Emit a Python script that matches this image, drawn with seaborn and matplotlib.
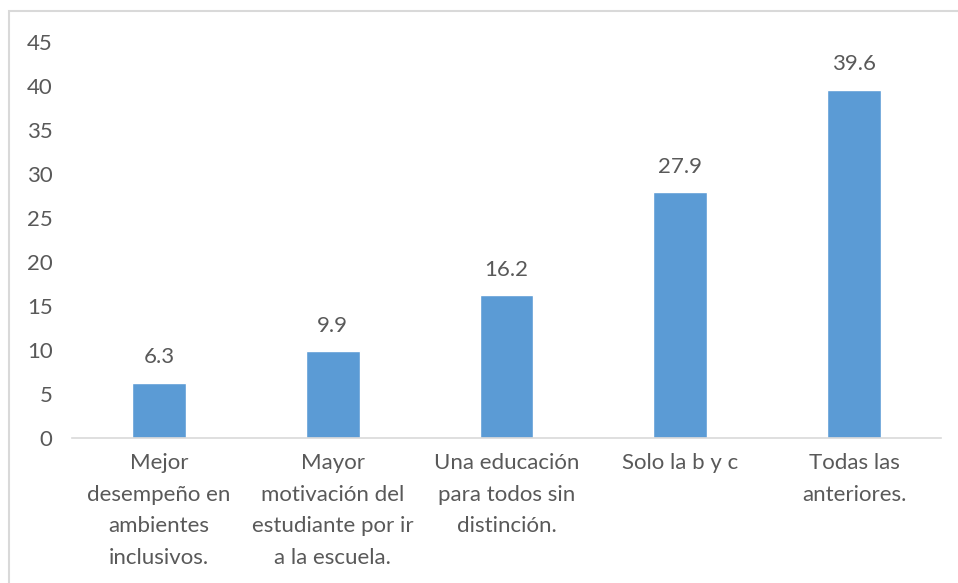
import matplotlib
matplotlib.use("Agg")
import matplotlib.pyplot as plt
import seaborn as sns
import pandas as pd
from matplotlib.patches import Rectangle

categories = ["Mejor\ndesempeño en\nambientes\ninclusivos.",
              "Mayor\nmotivación del\nestudiante por ir\na la escuela.",
              "Una educación\npara todos sin\ndistinción.",
              "Solo la b y c",
              "Todas las\nanteriores."]
values = [6.3, 9.9, 16.2, 27.9, 39.6]
yticks = [0, 5, 10, 15, 20, 25, 30, 35, 40, 45]

sns.set_theme(style="white")
plt.rcParams['font.family'] = ['Lato', 'DejaVu Sans']
TXT = "#595959"
FS = 16

df = pd.DataFrame({"cat": categories, "val": values})
fig = plt.figure(figsize=(9.58, 5.83), dpi=100)
fig.patches.append(Rectangle((9/958, -0.05), 1.1, (583-11)/583 + 0.05, transform=fig.transFigure,
                             facecolor="white", edgecolor="#d9d9d9", linewidth=1.5, zorder=-1))
ax = fig.add_axes([72/958, (583-438)/583, 869/958, 396/583])
ax.set_facecolor("none")
sns.barplot(data=df, x="cat", y="val", color="#5B9BD5", saturation=1, width=0.31, ax=ax)
ax.set_ylim(0, 45)
ax.set_xlim(-0.5, 4.5)
ax.set_yticks(yticks)
ax.set_yticklabels([str(v) for v in yticks], color=TXT, fontsize=FS)
ax.set_xticks(range(len(categories)))
ax.set_xticklabels(categories, color=TXT, fontsize=FS, linespacing=1.72)
ax.tick_params(axis="x", length=0, pad=11)
ax.tick_params(axis="y", length=0, pad=14)
ax.set_xlabel("")
ax.set_ylabel("")
for s in ["top", "right", "left"]:
    ax.spines[s].set_visible(False)
ax.spines["bottom"].set_color("#d9d9d9")
ax.spines["bottom"].set_linewidth(1.2)
for c in ax.containers:
    ax.bar_label(c, labels=[f"{v:.1f}" for v in values], padding=11, color=TXT, fontsize=FS)
fig.savefig("out.png", dpi=100)
